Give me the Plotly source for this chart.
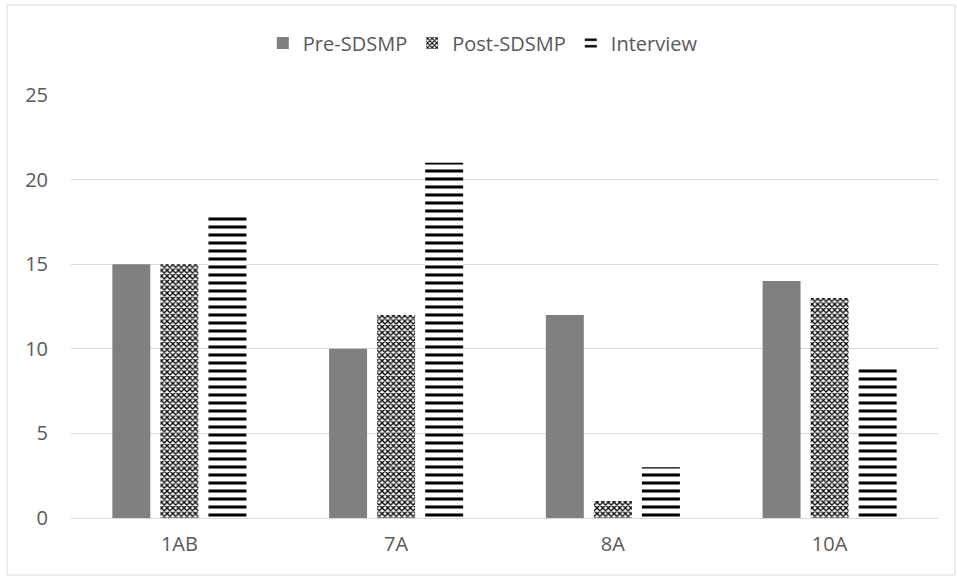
import plotly.graph_objects as go

categories = ["1AB", "7A", "8A", "10A"]
pre_sdsmp = [15, 10, 12, 14]
post_sdsmp = [15, 12, 1, 13]
interview = [18, 21, 3, 9]
y_ticks = [0, 5, 10, 15, 20, 25]

font_family = "Open Sans"
text_color = "#595959"
grid_color = "#d9d9d9"

# plot area in pixels (figure is 957 x 577)
L, R, T, B = 71, 19, 95, 59
W, H = 957 - L - R, 577 - T - B

fig = go.Figure()
fig.add_trace(go.Bar(
    name="Pre-SDSMP", x=categories, y=pre_sdsmp,
    marker=dict(color="#808080", line=dict(width=0)),
))
fig.add_trace(go.Bar(
    name="Post-SDSMP", x=categories, y=post_sdsmp,
    marker=dict(color="white", line=dict(width=0),
                pattern=dict(shape="x", fgcolor="black", bgcolor="white",
                             fgopacity=1, size=4, solidity=0.55)),
))
fig.add_trace(go.Bar(
    name="Interview", x=categories, y=interview,
    marker=dict(color="white", line=dict(width=0),
                pattern=dict(shape="-", fgcolor="black", bgcolor="white",
                             fgopacity=1, size=8, solidity=0.38)),
))

fig.update_layout(
    width=957, height=577,
    paper_bgcolor="white", plot_bgcolor="white",
    barmode="group", bargap=0.335, bargroupgap=0.21,
    margin=dict(l=L, r=R, t=T, b=B, autoexpand=False),
    font=dict(family=font_family, size=20, color=text_color),
    legend=dict(orientation="h", x=0.475, xanchor="center", y=(H + T - 43) / H,
                yanchor="middle", font=dict(size=20, color=text_color),
                traceorder="normal", bgcolor="rgba(0,0,0,0)"),
    xaxis=dict(showgrid=False, showline=True, linecolor=grid_color, linewidth=1,
               ticks="", ticklabelstandoff=8,
               tickfont=dict(size=20, color=text_color)),
    yaxis=dict(range=[0, 25], tickvals=y_ticks, showgrid=True, gridcolor=grid_color,
               gridwidth=1, zeroline=False, showline=False, ticks="",
               ticklabelstandoff=22, tickfont=dict(size=20, color=text_color)),
    shapes=[dict(type="rect", xref="paper", yref="paper",
                 x0=(7 - L) / W, x1=(955 - L) / W,
                 y0=-(B - 2) / H, y1=1 + (T - 5) / H,
                 line=dict(color=grid_color, width=1))],
)

fig.write_html("out.html")
